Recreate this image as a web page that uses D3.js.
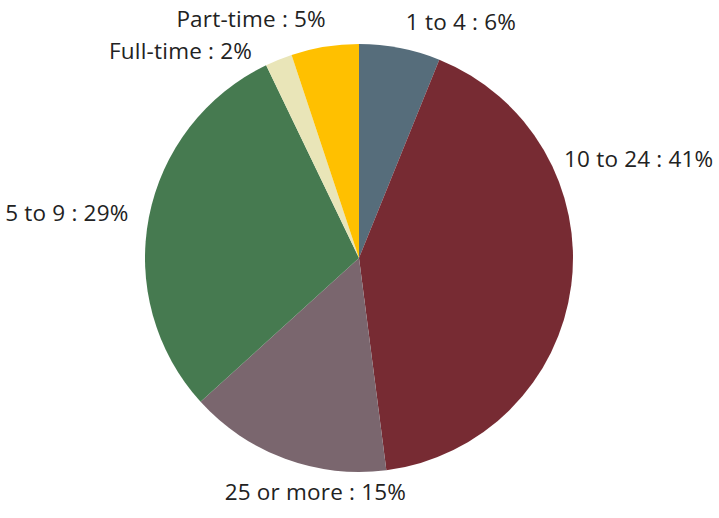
<!DOCTYPE html>
<html>
<head>
<meta charset="utf-8">
<script src="https://cdn.jsdelivr.net/npm/d3@7"></script>
<style>
  html, body { margin: 0; padding: 0; background: #fff; }
  svg { display: block; }
  text { font-family: "Open Sans", sans-serif; font-size: 22.5px; font-weight: 500; fill: #222; letter-spacing: 0.2px; }
</style>
</head>
<body>
<svg id="chart" width="719" height="518"></svg>
<script>
const categories = ["1 to 4", "10 to 24", "25 or more", "5 to 9", "Full-time", "Part-time"];
const values = [6, 41, 15, 29, 2, 5];
const colors = ["#566d7b", "#772b33", "#7a666e", "#467a50", "#e9e5b8", "#ffc000"];

// label layout (separate from data)
const labelAnchors = ["start", "start", "middle", "end", "end", "end"];
const labelNudges = [[0, 5], [-38, -130], [41, 4], [10, 2], [-15, 20], [6, 3]];

const W = 719, H = 518;
const cx = 359, cy = 258, R = 214, labelR = 245;

const svg = d3.select("#chart");
const g = svg.append("g").attr("transform", `translate(${cx},${cy})`);

const data = categories.map((c, i) => ({ cat: c, value: values[i], i }));
const pie = d3.pie().value(d => d.value).sort(null);
const arcs = pie(data);
const arc = d3.arc().innerRadius(0).outerRadius(R);
const labelArc = d3.arc().innerRadius(labelR).outerRadius(labelR);

g.selectAll("path.slice")
  .data(arcs)
  .join("path")
  .attr("class", "slice")
  .attr("d", arc)
  .attr("fill", d => colors[d.data.i]);

g.selectAll("text.lbl")
  .data(arcs)
  .join("text")
  .attr("class", "lbl")
  .attr("x", d => labelArc.centroid(d)[0] + labelNudges[d.data.i][0])
  .attr("y", d => labelArc.centroid(d)[1] + labelNudges[d.data.i][1])
  .attr("dy", "0.35em")
  .attr("text-anchor", d => labelAnchors[d.data.i])
  .text(d => `${d.data.cat} : ${d.data.value}%`);
</script>
</body>
</html>
